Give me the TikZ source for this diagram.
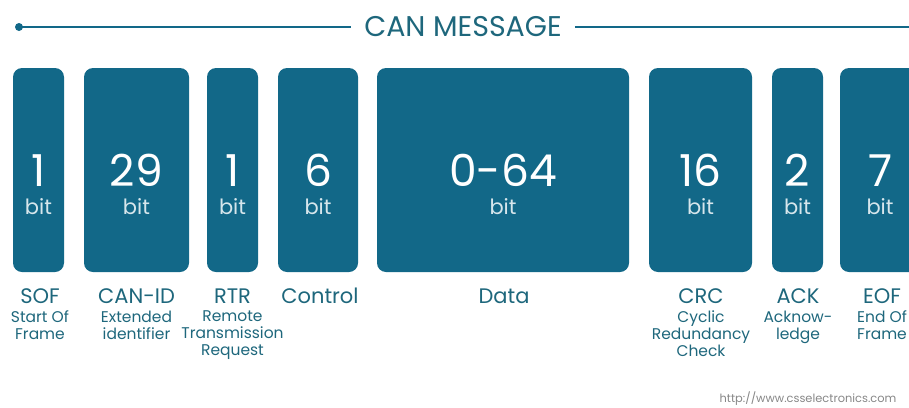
\documentclass[tikz,border=0pt]{standalone}
\usepackage{fontspec}
\setmainfont{Poppins}
\usepackage{tikz}
\usetikzlibrary{positioning}
\definecolor{canblue}{RGB}{18,104,136}
\definecolor{cantext}{RGB}{30,103,124}
\definecolor{bitgrey}{RGB}{214,230,236}
\definecolor{urlgrey}{RGB}{135,135,135}

\begin{document}
\begin{tikzpicture}[x=1pt,y=-1pt]
        \tikzstyle{field}=[rectangle, rounded corners=9pt, fill=canblue,
            inner sep=0pt, minimum height=204pt]
        \tikzstyle{bitcount}=[text=white, anchor=base, inner sep=0pt,
            font=\fontsize{44}{44}\selectfont]
        \tikzstyle{bitunit}=[text=bitgrey, anchor=base, inner sep=0pt,
            font=\fontsize{21}{21}\selectfont]
        \tikzstyle{fieldname}=[text=cantext, anchor=base, inner sep=0pt,
            font=\fontsize{21}{21}\selectfont]
        \tikzstyle{fielddesc}=[text=cantext, align=center, inner sep=0pt,
            font=\fontsize{15.5}{17}\selectfont]

            \clip (0,0) rectangle (909,407);

            % header line
            \coordinate (dot) at (19,27);
            \coordinate (rimend) at (909,27);
            \node[text=cantext, inner xsep=13pt, inner ysep=0pt,
            font=\fontsize{28.5}{28.5}\selectfont] (head) at (463,27)
            {CAN MESSAGE};
            \fill[canblue] (dot) circle (4pt);
            \draw[canblue, line width=2pt] (dot) -- (head.west);
            \draw[canblue, line width=2pt] (head.east) -- (rimend);

            % frame fields
            \foreach \name/\x/\w/\n in {sof/38.5/51/1, canid/136.5/105/29,
                rtr/232.5/51/1, ctrl/318/80/6, data/503/252/0-64,
                crc/700.5/103/16, ack/797.5/51/2, eof/880/80/7}
            {
                \node[field, minimum width=\w] (\name) at (\x,170) {};
                \node[bitcount] (\name-n) at ([yshift=-16pt]\name.center)
                {\n};
                \node[bitunit] (\name-u) at ([yshift=-44pt]\name.center)
                {bit};
            }

            % field names
            \foreach \name/\x/\t in {sof/40/SOF, canid/136.5/CAN-ID,
                rtr/232.5/RTR, ctrl/320/Control, data/504/Data,
                crc/701/CRC, ack/798/ACK, eof/882/EOF}
            {
                \node[fieldname] (\name-t) at (\x,303) {\t};
            }

            \node[fielddesc, below=7pt of sof-t] {Start Of\\Frame};
            \node[fielddesc, below=7pt of canid-t] {Extended\\identifier};
            \node[fielddesc, below=7pt of rtr-t]
            {Remote\\Transmission\\Request};
            \node[fielddesc, below=7pt of crc-t]
            {Cyclic\\Redundancy\\Check};
            \node[fielddesc, below=7pt of ack-t] {Acknow-\\ledge};
            \node[fielddesc, below=7pt of eof-t] {End Of\\Frame};

            \node[text=urlgrey, anchor=base, inner sep=0pt,
            font=\fontsize{11.4}{11.4}\selectfont] (url) at (808,402)
            {http://www.csselectronics.com};
    \end{tikzpicture}
\end{document}
